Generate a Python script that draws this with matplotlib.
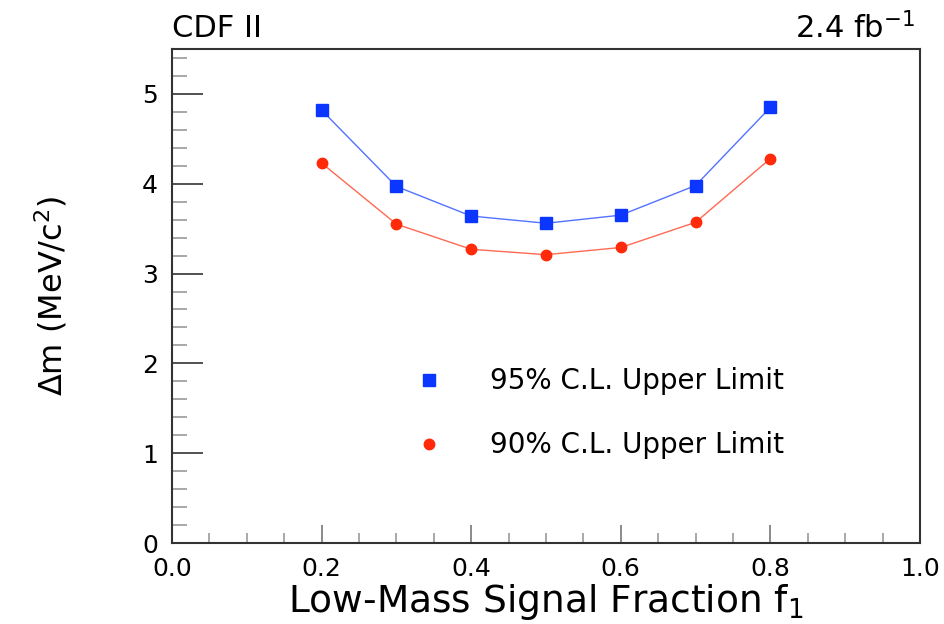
"""CDF II upper limits on the mass splitting versus low-mass signal fraction."""

import matplotlib
matplotlib.use("Agg")
import matplotlib.pyplot as plt
from matplotlib.ticker import MultipleLocator

FRACTION = [0.2, 0.3, 0.4, 0.5, 0.6, 0.7, 0.8]
LIMIT_95 = [4.82, 3.97, 3.64, 3.56, 3.65, 3.98, 4.85]
LIMIT_90 = [4.23, 3.55, 3.27, 3.21, 3.29, 3.57, 4.28]
LABEL_95 = "95% C.L. Upper Limit"
LABEL_90 = "90% C.L. Upper Limit"

BLUE = "#0a36ff"
RED = "#ff2a0a"

plt.rcParams["font.family"] = ["DejaVu Sans"]

fig = plt.figure(figsize=(9.45, 6.24), dpi=100)
ax = fig.add_axes([0.182, 0.1298, 0.7915, 0.7917])

ax.plot(FRACTION, LIMIT_95, color=BLUE, lw=1.0, alpha=0.7, zorder=2)
ax.plot(FRACTION, LIMIT_95, ls="none", marker="s", ms=8, color=BLUE,
        label=LABEL_95, zorder=3)
ax.plot(FRACTION, LIMIT_90, color=RED, lw=1.0, alpha=0.7, zorder=2)
ax.plot(FRACTION, LIMIT_90, ls="none", marker="o", ms=7.5, color=RED,
        label=LABEL_90, zorder=3)

ax.set_xlim(0.0, 1.0)
ax.set_ylim(0.0, 5.5)
ax.xaxis.set_major_locator(MultipleLocator(0.2))
ax.xaxis.set_minor_locator(MultipleLocator(0.05))
ax.yaxis.set_major_locator(MultipleLocator(1))
ax.yaxis.set_minor_locator(MultipleLocator(0.2))
ax.xaxis.set_major_formatter(plt.FormatStrFormatter("%.1f"))

ax.tick_params(axis="both", which="both", direction="in", top=False, right=False)
ax.tick_params(axis="x", which="major", length=13, width=1.2, color="#777777",
               labelsize=18, pad=10)
ax.tick_params(axis="x", which="minor", length=7, width=1.2, color="#999999")
ax.tick_params(axis="y", which="major", length=22, width=1.2, color="#333333",
               labelsize=18, pad=10)
ax.tick_params(axis="y", which="minor", length=11, width=1.2, color="#999999")
for sp in ax.spines.values():
    sp.set_linewidth(1.5)
    sp.set_color("#333333")

ax.set_xlabel("Low-Mass Signal Fraction f$_{\\mathregular{1}}$", fontsize=27,
              labelpad=1)
ax.set_ylabel("Δm (MeV/c$^{\\mathregular{2}}$)", fontsize=23, labelpad=52)

fig.text(0.182, 0.955, "CDF II", fontsize=22, ha="left", va="center")
fig.text(0.968, 0.955, "2.4 fb$^{\\mathregular{-1}}$", fontsize=22,
         ha="right", va="center")

leg = ax.legend(loc="upper left", bbox_to_anchor=(0.31, 0.378), frameon=False,
                fontsize=20, handlelength=1.0, handletextpad=1.7,
                labelspacing=1.3, borderaxespad=0)

fig.savefig("out.png", dpi=100)
